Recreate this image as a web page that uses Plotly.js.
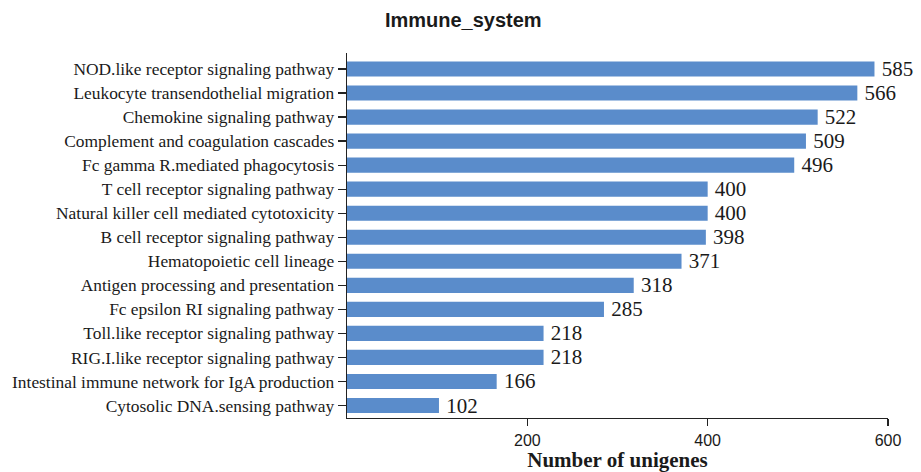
<!DOCTYPE html>
<html>
<head>
<meta charset="utf-8">
<script src="https://cdn.plot.ly/plotly-3.0.1.min.js"></script>
<style>html,body{margin:0;padding:0;background:#fff;}#chart{width:921px;height:472px;}</style>
</head>
<body>
<div id="chart"></div>
<script>
const pathways = [
  "NOD.like receptor signaling pathway",
  "Leukocyte transendothelial migration",
  "Chemokine signaling pathway",
  "Complement and coagulation cascades",
  "Fc gamma R.mediated phagocytosis",
  "T cell receptor signaling pathway",
  "Natural killer cell mediated cytotoxicity",
  "B cell receptor signaling pathway",
  "Hematopoietic cell lineage",
  "Antigen processing and presentation",
  "Fc epsilon RI signaling pathway",
  "Toll.like receptor signaling pathway",
  "RIG.I.like receptor signaling pathway",
  "Intestinal immune network for IgA production",
  "Cytosolic DNA.sensing pathway"
];
const unigenes = [585, 566, 522, 509, 496, 400, 400, 398, 371, 318, 285, 218, 218, 166, 102];
const xTicks = [200, 400, 600];

const trace = {
  type: 'bar',
  orientation: 'h',
  y: pathways,
  x: unigenes,
  width: 0.63,
  marker: {color: '#5a8ccb'},
  text: unigenes.map(v => '\u2009' + v),
  textposition: 'outside',
  constraintext: 'none',
  cliponaxis: false,
  textfont: {family: 'Liberation Serif, Times New Roman, serif', size: 21, color: '#1a1a1a'},
  hoverinfo: 'none'
};

const layout = {
  width: 921, height: 472,
  margin: {l: 347, r: 33, t: 53, b: 54},
  paper_bgcolor: '#fff', plot_bgcolor: '#fff',
  showlegend: false,
  title: {
    text: '<b>Immune_system</b>',
    font: {family: 'Liberation Sans, Arial, sans-serif', size: 20, color: '#1a1a1a'},
    x: 0.503, xanchor: 'center', y: 0.958, yanchor: 'middle'
  },
  xaxis: {
    range: [0, 600],
    tickvals: xTicks,
    ticktext: xTicks.map(String),
    ticks: 'outside', ticklen: 7, tickwidth: 1.3, tickcolor: '#222',
    showline: true, linecolor: '#222', linewidth: 1.3,
    showgrid: false, zeroline: false,
    tickfont: {family: 'Liberation Sans, Arial, sans-serif', size: 16, color: '#1a1a1a'},
    title: {text: '<b>Number of unigenes</b>', standoff: 2,
      font: {family: 'Liberation Serif, Times New Roman, serif', size: 21, color: '#1a1a1a'}}
  },
  yaxis: {
    type: 'category',
    range: [14.52, -0.666],
    ticks: 'outside', ticklen: 8, tickwidth: 1.3, tickcolor: '#222',
    showline: true, linecolor: '#222', linewidth: 1.3,
    showgrid: false, zeroline: false,
    tickfont: {family: 'Liberation Serif, Times New Roman, serif', size: 17.4, color: '#1a1a1a'}
  }
};

Plotly.newPlot('chart', [trace], layout, {displayModeBar: false, staticPlot: true});
</script>
</body>
</html>
